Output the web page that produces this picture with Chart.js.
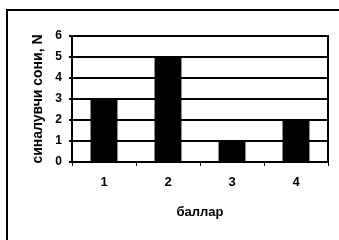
<!DOCTYPE html>
<html>
<head>
<meta charset="utf-8">
<script src="https://cdn.jsdelivr.net/npm/chart.js@4.4.0/dist/chart.umd.min.js"></script>
<style>
html,body{margin:0;padding:0;background:#fff;}
#wrap{position:relative;width:339px;height:240px;}
</style>
</head>
<body>
<div id="wrap"><canvas id="c" width="339" height="240"></canvas></div>
<script>
const categories = ['1', '2', '3', '4'];
const values = [3, 5, 1, 2];
const yTicks = [0, 1, 2, 3, 4, 5, 6];
const xTitle = 'баллар';
const yTitle = 'синалувчи сони, N';

const frame = {
  id: 'frame',
  beforeDraw(chart) {
    const ctx = chart.ctx;
    ctx.save();
    ctx.fillStyle = '#fff';
    ctx.fillRect(0, 0, chart.width, chart.height);
    ctx.strokeStyle = '#000';
    ctx.lineWidth = 2;
    ctx.beginPath();
    ctx.moveTo(7, 240);
    ctx.lineTo(7, 10);
    ctx.lineTo(339, 10);
    ctx.stroke();
    ctx.restore();
  }
};

new Chart(document.getElementById('c'), {
  type: 'bar',
  data: {
    labels: categories,
    datasets: [{
      data: values,
      backgroundColor: '#000',
      borderWidth: 0,
      categoryPercentage: 1,
      barPercentage: 0.42
    }]
  },
  options: {
    responsive: false,
    animation: false,
    devicePixelRatio: 1,
    layout: { padding: { left: 0, right: 11, top: 36, bottom: 0 } },
    plugins: { legend: { display: false }, tooltip: { enabled: false } },
    scales: {
      x: {
        afterFit(s) { s.height = 78; },
        grid: { offset: true, drawOnChartArea: false, drawTicks: true, tickLength: 4, color: '#000', lineWidth: 1 },
        border: { color: '#000', width: 2 },
        ticks: { color: '#000', padding: 9, font: { family: 'Liberation Sans, Arial', size: 13, weight: 'bold' } },
        title: { display: true, text: xTitle, color: '#000', padding: { top: 0, bottom: 20 }, font: { family: 'Liberation Sans, Arial', size: 13, weight: 'bold' } }
      },
      y: {
        min: 0, max: 6,
        afterFit(s) { s.width = 72; },
        afterBuildTicks(s) { s.ticks = yTicks.map(v => ({ value: v })); },
        grid: { color: '#000', lineWidth: 2, drawTicks: true, tickLength: 3 },
        border: { color: '#000', width: 2 },
        ticks: { color: '#000', padding: 7, font: { family: 'Liberation Sans, Arial', size: 12, weight: 'bold' } },
        title: { display: true, text: yTitle, color: '#000', padding: { top: 30, bottom: 0 }, font: { family: 'Liberation Sans, Arial', size: 14, weight: 'bold' } }
      }
    }
  },
  plugins: [frame, {
    id: 'plotBorder',
    afterDraw(chart) {
      const a = chart.chartArea, ctx = chart.ctx;
      ctx.save();
      ctx.strokeStyle = '#000';
      ctx.lineWidth = 2;
      ctx.strokeRect(a.left, a.top, a.right - a.left, a.bottom - a.top);
      ctx.restore();
    }
  }]
});
</script>
</body>
</html>
